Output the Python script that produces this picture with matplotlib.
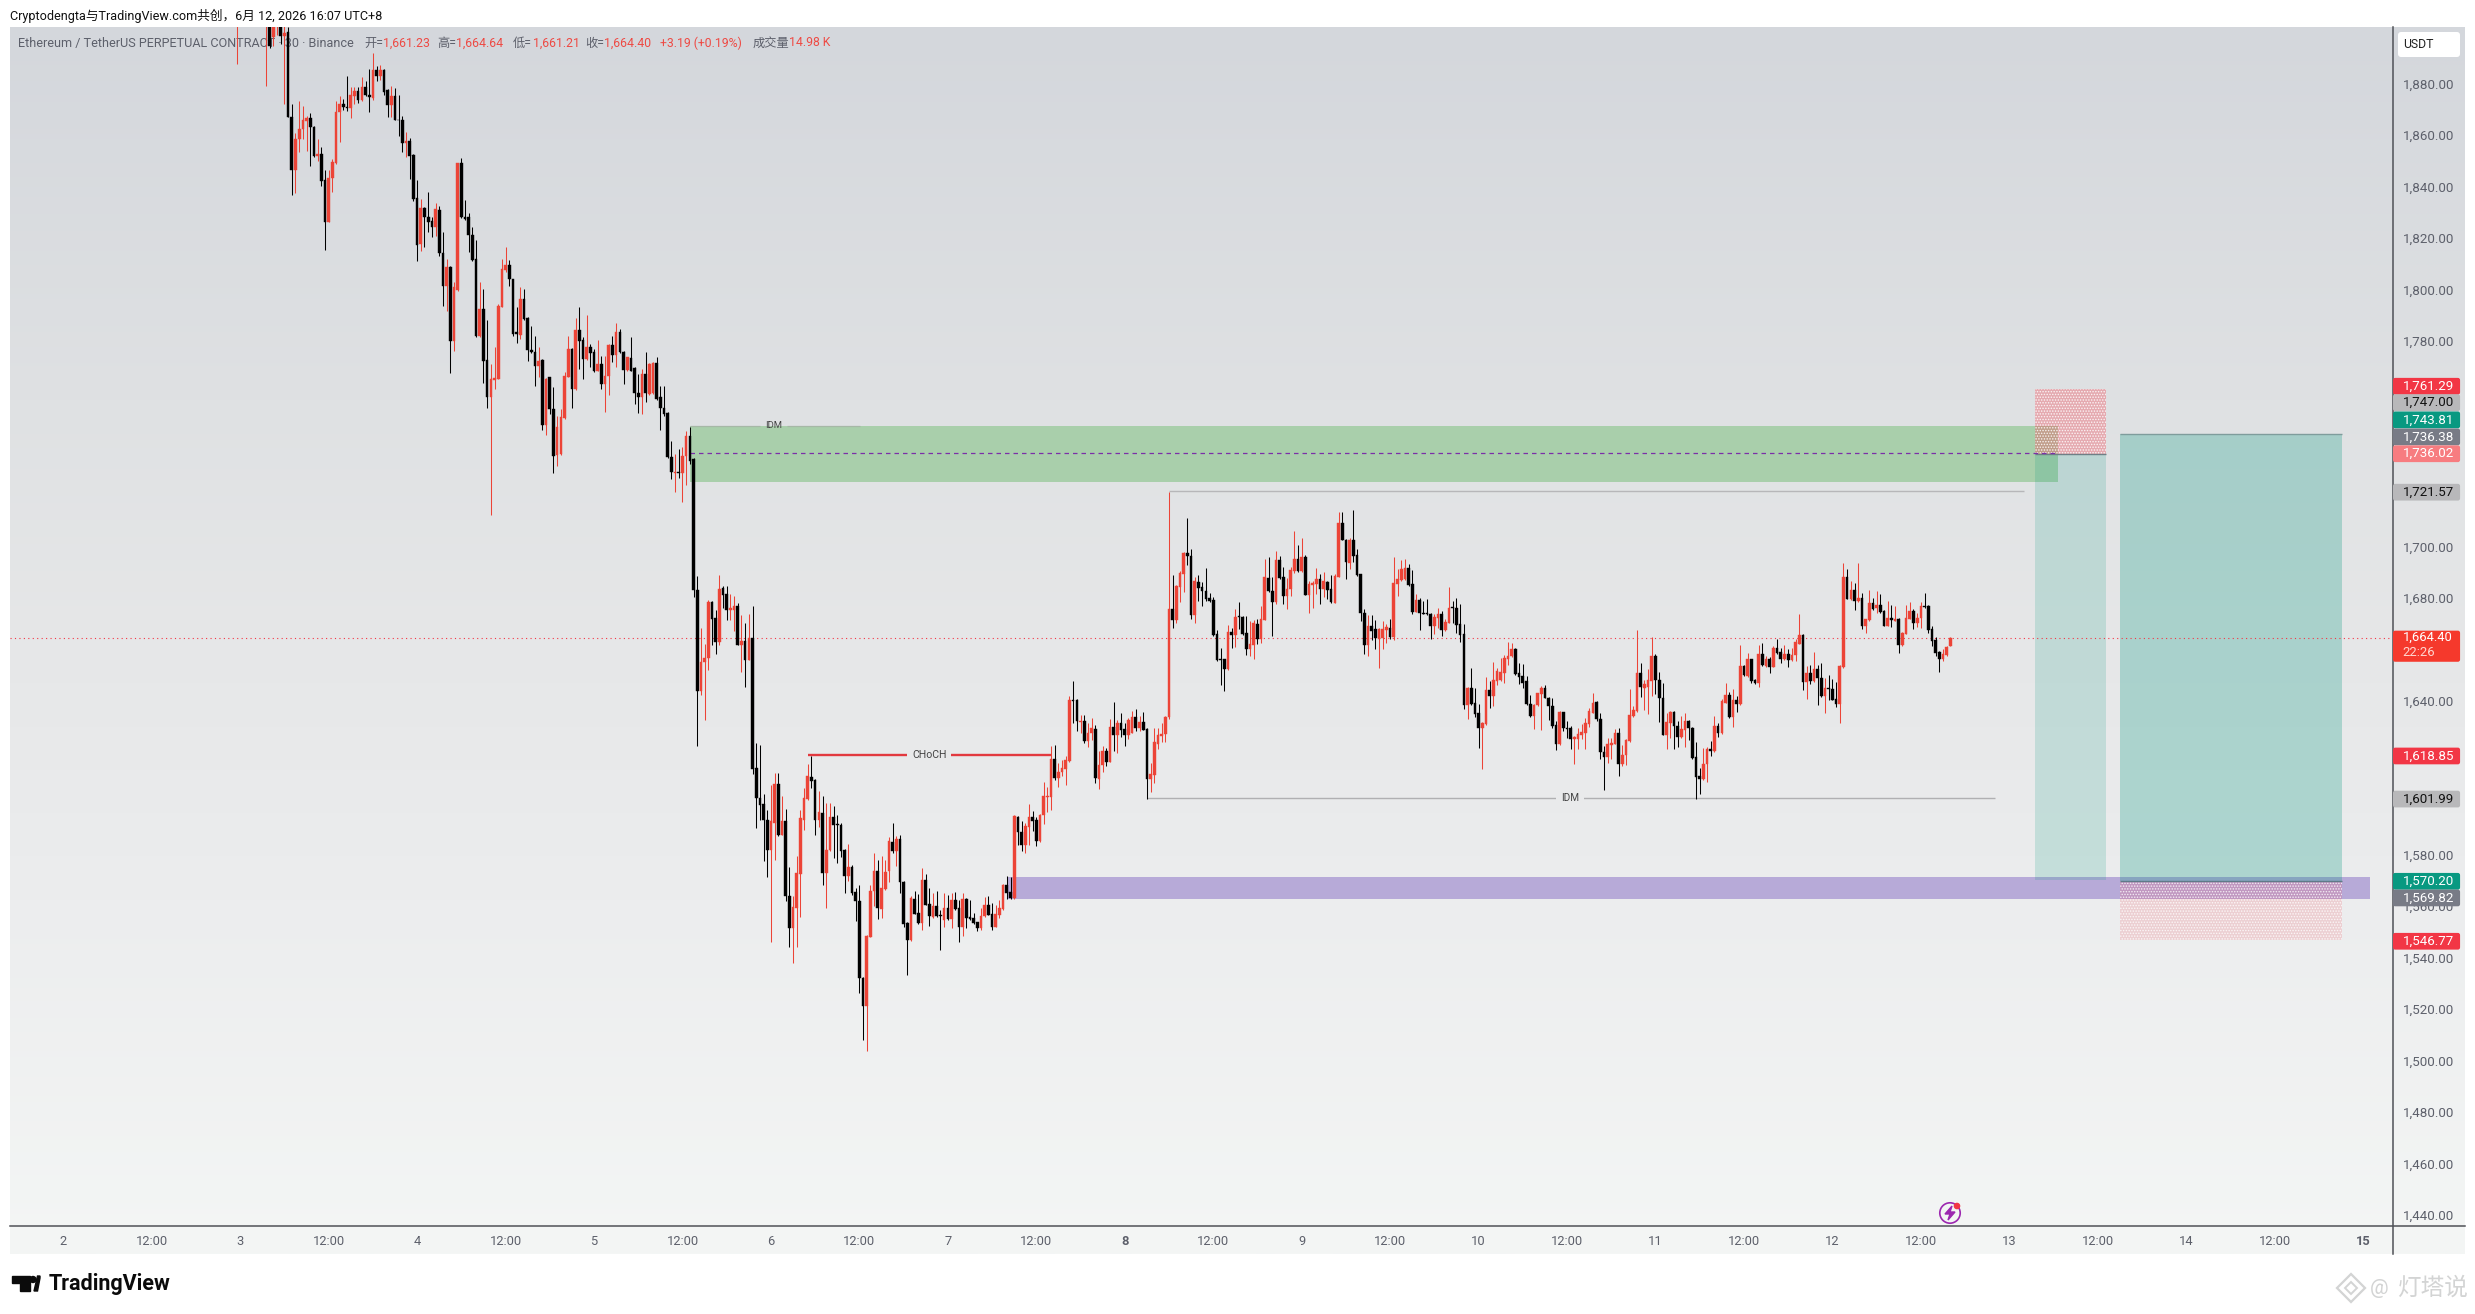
import numpy as np
import matplotlib
matplotlib.use("Agg")
import matplotlib.pyplot as plt
from matplotlib.patches import Rectangle, Circle, Polygon, FancyBboxPatch

plt.rcParams['font.family'] = ['Roboto', 'Noto Sans CJK SC', 'DejaVu Sans']
plt.rcParams['hatch.linewidth'] = 0.7

# 30 minute candles, index 0 is 00:00 on the 2nd; the first visible one is 47
first_candle = 47

opens = [
    1905, 1915, 1918, 1916, 1920, 1917, 1914, 1912, 1905, 1915,
    1898, 1908, 1908, 1898.5, 1900, 1867.1, 1846.5, 1858.5, 1862.4, 1865.6,
    1866.5, 1863.3, 1852, 1852.6, 1842.6, 1826.3, 1843.3, 1849.1, 1868.8, 1872.1,
    1871, 1870.4, 1875.3, 1877, 1873.8, 1878.8, 1875.7, 1874.3, 1885.4, 1883.1,
    1885.4, 1877.5, 1871.8, 1875.3, 1866, 1866, 1856.8, 1857.5, 1852.4, 1835.5,
    1817.6, 1831.5, 1828.2, 1826.7, 1824.1, 1831, 1814.1, 1801.4, 1808.8, 1779.7,
    1799.7, 1849.1, 1828, 1828, 1821.2, 1811.8, 1781.9, 1792.3, 1772.5, 1758.2,
    1764.7, 1765.1, 1793.2, 1807.5, 1809.4, 1804, 1783.2, 1782.3, 1796.2, 1788.7,
    1776.4, 1775.7, 1770, 1772.5, 1747.3, 1765.7, 1753.4, 1735.5, 1735.9, 1749.9,
    1766, 1776.7, 1761.2, 1784.3, 1780.4, 1772.9, 1777.4, 1775.5, 1768.3, 1770.9,
    1763.1, 1766.1, 1778.4, 1774.5, 1783.5, 1775.7, 1768.7, 1773.3, 1769.2, 1759.5,
    1758.2, 1767, 1759.2, 1759.5, 1771.2, 1758, 1754, 1751.7, 1734.9, 1728.7,
    1729, 1728.4, 1735.2, 1743, 1733.9, 1683.1, 1643.6, 1655, 1656.5, 1678.2,
    1672.1, 1662.6, 1683.8, 1681.4, 1675.3, 1675.3, 1676.9, 1661.7, 1663.3, 1655.9,
    1664.3, 1613.7, 1602.1, 1599.7, 1593.6, 1581.7, 1592.3, 1607.6, 1587.8, 1593,
    1564, 1551.5, 1559.3, 1572.6, 1593.6, 1601.8, 1610.2, 1609, 1593.4, 1596.2,
    1573.1, 1581.7, 1594.7, 1592, 1591.7, 1582, 1571.6, 1575.1, 1565.4, 1562.2,
    1532, 1521, 1548.2, 1565.8, 1573.8, 1559, 1566.8, 1573.8, 1585, 1581.3,
    1586.1, 1569.6, 1553.4, 1546.7, 1562.8, 1557.3, 1553.4, 1570.3, 1560.8, 1555.8,
    1560.2, 1556.7, 1554.5, 1559.2, 1554.9, 1562.5, 1559.3, 1552.1, 1562.8, 1555.7,
    1555.4, 1553.7, 1551.5, 1556.3, 1560.6, 1557, 1552.1, 1556.7, 1558.9, 1568.4,
    1565.5, 1563.2, 1594.9, 1589, 1583.9, 1591, 1594.9, 1593.6, 1585.2, 1595.3,
    1602.4, 1602.4, 1617.4, 1609.8, 1612.2, 1613.5, 1616.6, 1640.3, 1640.3, 1631.6,
    1632.2, 1624.1, 1627.2, 1628.9, 1609.5, 1614.8, 1620.2, 1616.3, 1629.7, 1626.7,
    1631.2, 1628.9, 1626.7, 1627.4, 1633.6, 1629.3, 1631.6, 1629, 1609.5, 1611.2,
    1623.2, 1626.4, 1627.1, 1633.7, 1675.5, 1671.4, 1684.2, 1689.1, 1697.6, 1696.3,
    1673.2, 1686.3, 1684.2, 1682.7, 1679.8, 1679.1, 1665.8, 1656, 1656, 1652.2,
    1666.7, 1665.4, 1673, 1672.7, 1666.4, 1660, 1661.6, 1669.9, 1663.8, 1671.4,
    1687.8, 1682.7, 1678.4, 1694.6, 1688.1, 1680.5, 1683.3, 1690.4, 1695, 1690.4,
    1696, 1681.1, 1685, 1685.2, 1687.2, 1683.3, 1686.3, 1683.3, 1678.1, 1688.2,
    1709, 1702.5, 1693.7, 1702.4, 1696.5, 1689.1, 1674.2, 1661.6, 1669, 1667.7,
    1664.1, 1664.2, 1667.4, 1668.4, 1664.9, 1685.2, 1686.9, 1687.2, 1691.7, 1685.2,
    1674.6, 1679.1, 1674.2, 1674, 1673.8, 1669, 1672.3, 1673.6, 1667.5, 1670.3,
    1676.3, 1676.2, 1669.7, 1665.8, 1638.2, 1644.8, 1638.9, 1635.3, 1629.5, 1630.8,
    1644.1, 1641.8, 1647.6, 1648, 1650.9, 1656.1, 1657.4, 1660, 1650.6, 1649.6,
    1647.6, 1638.8, 1634, 1638.3, 1642.5, 1644.8, 1641.1, 1637.9, 1630.4, 1623,
    1635.5, 1629.4, 1629.4, 1624.9, 1624.9, 1626.8, 1627.2, 1630.7, 1635.3, 1639.4,
    1633, 1620.1, 1618, 1622.7, 1623.3, 1627.2, 1615.5, 1618.7, 1624.2, 1634,
    1635.9, 1650.8, 1645, 1645.4, 1647.6, 1657.3, 1648.2, 1641.1, 1626.8, 1631.1,
    1635.5, 1630.3, 1625.9, 1628.7, 1632, 1629.4, 1618.1, 1610.5, 1609.3, 1615.2,
    1621, 1620.2, 1630.3, 1627.2, 1639.1, 1642, 1633.6, 1640.1, 1638.5, 1653.4,
    1649.5, 1656, 1648.2, 1646.7, 1658, 1653.4, 1656.3, 1653.2, 1660.5, 1659,
    1656, 1658.3, 1655.7, 1657.6, 1662.2, 1665.7, 1647.2, 1650.8, 1647.6, 1652.4,
    1648.9, 1641.7, 1645, 1644.7, 1640.7, 1638.5, 1653, 1688, 1679.7, 1683.2,
    1678.7, 1680, 1669.2, 1671.2, 1677.8, 1675.9, 1677.1, 1675, 1669.2, 1672.2,
    1671, 1671.8, 1661.8, 1666, 1671.8, 1674.8, 1670.3, 1672, 1676.8, 1676.8,
    1667.7, 1663.4, 1659, 1656, 1657.6, 1661.23,
]
closes = [
    1915, 1918, 1916, 1920, 1917, 1914, 1912, 1905, 1915, 1894.8,
    1908, 1912, 1898.7, 1899.7, 1866.9, 1846.5, 1858.5, 1862.4, 1866, 1866.6,
    1863, 1852, 1852.6, 1842.2, 1826.3, 1843.3, 1849.6, 1869.1, 1872.1, 1870.8,
    1870.4, 1875.7, 1877, 1873.8, 1878.8, 1875.4, 1874.7, 1885.4, 1883.1, 1885.4,
    1876.6, 1871.8, 1875.3, 1866, 1865.8, 1856.8, 1857.5, 1852, 1835.1, 1817.3,
    1831.5, 1828, 1826.3, 1824.1, 1831.2, 1814, 1801.4, 1808.8, 1779.7, 1800.7,
    1849.1, 1828, 1827.3, 1821.1, 1811.5, 1781.9, 1792.3, 1772.2, 1758.2, 1765.1,
    1765.5, 1793.6, 1807.9, 1809.6, 1804, 1782.8, 1782.8, 1796.2, 1788.4, 1776.4,
    1775.5, 1770, 1772.2, 1747.3, 1765.1, 1753.4, 1735.2, 1746.5, 1750.2, 1766.4,
    1776.7, 1761.4, 1784.3, 1780, 1772.9, 1777.4, 1775.2, 1768.3, 1770.9, 1763.1,
    1766.4, 1778.4, 1774.5, 1783.5, 1775.5, 1768.7, 1773.5, 1768.4, 1759.5, 1758.2,
    1767, 1759.5, 1770.9, 1771.5, 1757.3, 1754, 1751.4, 1734.6, 1728.8, 1729,
    1728.4, 1735.2, 1743, 1733.3, 1682.9, 1643.6, 1655, 1656.5, 1678.2, 1671.8,
    1662.6, 1683.4, 1681.2, 1675.3, 1676, 1676.9, 1661.7, 1663.3, 1655.9, 1664.3,
    1613.4, 1602.1, 1599.5, 1593.6, 1581.7, 1593, 1607.6, 1587.8, 1593, 1563.8,
    1551.5, 1559.7, 1572.9, 1594.3, 1602.1, 1610.5, 1608.6, 1593.4, 1596.5, 1573.1,
    1582, 1594.7, 1591.7, 1591.6, 1581.6, 1571.6, 1575.1, 1565.1, 1561.9, 1532,
    1521, 1548.5, 1566, 1573.8, 1559.3, 1567, 1573.5, 1585.2, 1581.3, 1586.1,
    1569.6, 1553.2, 1546.7, 1563.2, 1557, 1553.4, 1570.3, 1560.6, 1556.3, 1560.2,
    1556.3, 1556.3, 1559.2, 1555.1, 1562.5, 1558.9, 1552.1, 1562.8, 1555.4, 1555,
    1553.4, 1551.5, 1556.3, 1560.6, 1556.7, 1552.1, 1557, 1559.3, 1568.4, 1565.1,
    1563.2, 1595.2, 1588.7, 1583.9, 1591.3, 1594.9, 1593.2, 1585.2, 1595.3, 1602.7,
    1603, 1617.4, 1609.8, 1612.4, 1613.7, 1617, 1640.3, 1640, 1631.9, 1631.9,
    1624.1, 1627.4, 1629.3, 1609.8, 1615, 1620.2, 1616.3, 1629.7, 1626.7, 1631.2,
    1628.7, 1626.7, 1632.5, 1633.6, 1629.3, 1631.6, 1628.7, 1609.5, 1611.5, 1623.7,
    1626.7, 1627.1, 1633.6, 1675.5, 1671.4, 1684.6, 1689.5, 1697.6, 1696.3, 1673.2,
    1686.5, 1683.9, 1682.7, 1679.4, 1678.8, 1665.5, 1655.7, 1655.7, 1652.2, 1666.8,
    1665.4, 1672.7, 1672.5, 1665.8, 1660, 1661.9, 1670.1, 1664.1, 1671.6, 1688.1,
    1682.7, 1678.4, 1694.6, 1687.8, 1680.5, 1683.6, 1690.7, 1695, 1690.4, 1696,
    1681.1, 1685.2, 1685.9, 1687.2, 1683.3, 1686.5, 1683, 1678.4, 1688.5, 1709,
    1702.5, 1693.9, 1702.4, 1696.3, 1688.9, 1674, 1661.6, 1669, 1667.1, 1664.2,
    1667.7, 1667.7, 1668.6, 1664.8, 1685.6, 1687.2, 1691.1, 1691.7, 1684.9, 1674.6,
    1679.1, 1674, 1673.8, 1673.6, 1669, 1672.5, 1673.8, 1667.5, 1670.6, 1676.2,
    1676, 1669.4, 1665.5, 1638.2, 1645, 1638.6, 1634.9, 1629.5, 1631.2, 1644.1,
    1641.8, 1647.9, 1651.5, 1651.1, 1656.4, 1657.4, 1660, 1650.2, 1649.2, 1647,
    1638.5, 1634, 1638.3, 1642.8, 1645, 1641.1, 1637.9, 1630.1, 1623, 1635.6,
    1629.4, 1629, 1624.9, 1625.8, 1627.1, 1627.7, 1631.1, 1635.9, 1639.1, 1632.7,
    1620, 1618, 1623.2, 1623.6, 1627.2, 1615.5, 1619, 1624.5, 1634.2, 1636.2,
    1650.8, 1645.2, 1646.3, 1648, 1657.3, 1648, 1641.1, 1626.8, 1631.6, 1635.5,
    1630, 1625.9, 1629, 1632, 1629.2, 1617.7, 1610.2, 1609.3, 1615.5, 1621.2,
    1620.2, 1630.3, 1627.2, 1639.8, 1642, 1633.6, 1640.2, 1638.5, 1653.4, 1649.8,
    1656, 1647.6, 1646.9, 1658, 1653.7, 1656.3, 1653.2, 1660.5, 1658.6, 1656,
    1658.3, 1655.7, 1657.7, 1662.8, 1665.7, 1647.2, 1650.8, 1647.6, 1652.4, 1648.9,
    1641.7, 1645, 1644.5, 1640.4, 1638.5, 1653.4, 1688, 1679.7, 1683.2, 1678.7,
    1680, 1669.2, 1671.6, 1677.8, 1675.7, 1677.1, 1674.4, 1669.2, 1672.2, 1671.2,
    1671.6, 1661.8, 1666.4, 1672.2, 1674.8, 1670.3, 1672.2, 1676.8, 1676.3, 1667.4,
    1663.1, 1658.6, 1656, 1658, 1661, 1664.4,
]
highs = [
    1925, 1922, 1924, 1926, 1925, 1922, 1920, 1915, 1920, 1918,
    1912, 1915, 1912, 1906, 1902, 1872, 1860.7, 1873.4, 1871.4, 1867.3,
    1868.4, 1863.5, 1858.5, 1855.5, 1846.5, 1846.5, 1850.7, 1873.4, 1875.3, 1874,
    1883.1, 1878.6, 1878.8, 1878.6, 1882.4, 1881, 1885.7, 1891.9, 1887, 1887.4,
    1885.6, 1878, 1879.2, 1878.2, 1875.7, 1867.5, 1861.3, 1858.8, 1852.6, 1842.5,
    1835, 1832, 1837.7, 1828, 1833.4, 1832.5, 1822.1, 1811.8, 1809, 1802.7,
    1849.3, 1851, 1834.7, 1829.5, 1824.3, 1819.3, 1803, 1800.1, 1788, 1770.9,
    1777.4, 1794.3, 1811.8, 1816.3, 1811.5, 1804.2, 1793, 1800.7, 1800.1, 1789.2,
    1785.8, 1781.9, 1777.7, 1772.9, 1765.4, 1766, 1761.8, 1750.8, 1753.4, 1767.7,
    1781.9, 1777, 1788.8, 1793.2, 1781.3, 1790, 1778.7, 1776.7, 1780.2, 1774.1,
    1774.1, 1778.7, 1781.9, 1786.9, 1784.5, 1776.1, 1773.7, 1781.6, 1769.6, 1767,
    1769, 1775.5, 1771.5, 1771.9, 1773.8, 1762.5, 1762.5, 1752.1, 1741, 1735.9,
    1738, 1738.7, 1744.7, 1746.5, 1734.2, 1688.6, 1668.2, 1662.1, 1679.2, 1678.6,
    1675.3, 1689, 1684.7, 1684.4, 1681.4, 1680.5, 1677.9, 1673.4, 1670.2, 1673.7,
    1676.9, 1623.5, 1622.8, 1603.6, 1597.5, 1607.3, 1611.8, 1611.8, 1602.7, 1597.8,
    1575.2, 1564, 1579.4, 1597.5, 1606, 1615.4, 1618.3, 1609.4, 1604.7, 1603,
    1600.1, 1600, 1598.8, 1595.6, 1592.3, 1582.4, 1584.2, 1576.2, 1567, 1568.3,
    1532.5, 1548.9, 1568.3, 1580.9, 1578.1, 1579.4, 1578.1, 1587.1, 1592.3, 1587.4,
    1587.8, 1570, 1554, 1563.8, 1565.8, 1564.8, 1574.8, 1572.6, 1567, 1565,
    1565.8, 1558.7, 1565, 1564.5, 1565.1, 1565.4, 1562.4, 1565.1, 1563.2, 1562.5,
    1557.3, 1553.9, 1559.3, 1563.5, 1563.8, 1561.2, 1560.6, 1562.5, 1568.8, 1571.8,
    1571.3, 1595.4, 1595.2, 1593, 1592.3, 1599.7, 1596.9, 1594.7, 1596, 1608.2,
    1606.5, 1622.2, 1622.8, 1615.7, 1617, 1618.3, 1641.9, 1647.5, 1640.5, 1634.5,
    1634.5, 1631.2, 1633.2, 1630.6, 1620.2, 1622.4, 1621.5, 1632.8, 1639.4, 1632.5,
    1635.1, 1631.2, 1633.2, 1635.8, 1636.7, 1633.9, 1635.4, 1629.3, 1615.7, 1629.3,
    1629.3, 1631.2, 1634, 1721.3, 1688.7, 1684.9, 1690.4, 1697.9, 1710.9, 1699.1,
    1688, 1688.7, 1686.1, 1691.7, 1682, 1680.3, 1667.3, 1660.6, 1656.3, 1669.3,
    1668.4, 1675.8, 1678.5, 1673, 1673, 1671, 1671.4, 1671.9, 1676.8, 1695.2,
    1696, 1688, 1698, 1696.3, 1692.1, 1687.8, 1692.1, 1706, 1700.4, 1703.4,
    1696.5, 1686.5, 1686.6, 1691.7, 1689.4, 1690, 1686.6, 1688.7, 1689.1, 1713.5,
    1713.5, 1703, 1703.4, 1714, 1699.1, 1689.3, 1675.8, 1673.2, 1673.2, 1671.2,
    1668.4, 1671, 1669.7, 1671.6, 1696, 1691.1, 1694.6, 1695, 1693, 1690.7,
    1681.6, 1680, 1678.8, 1679.4, 1674.2, 1673.5, 1676.2, 1674.9, 1671.6, 1684.2,
    1678.8, 1680, 1677.5, 1669.9, 1645.3, 1652.8, 1645, 1638.5, 1631.5, 1649,
    1647.6, 1655, 1652.8, 1656.7, 1657.6, 1662.9, 1662.5, 1660.6, 1654.5, 1654.1,
    1649.6, 1642, 1638.5, 1643, 1645.6, 1646.1, 1641.3, 1641.1, 1632, 1636,
    1635.7, 1632, 1630, 1626.2, 1629.4, 1631, 1633.3, 1637.2, 1642.8, 1639.8,
    1635, 1622.5, 1625.5, 1625.3, 1629, 1629.4, 1622.9, 1624.9, 1644.7, 1637.9,
    1667.3, 1654.7, 1648.2, 1652.1, 1664.8, 1658, 1651.2, 1646.9, 1635.3, 1635.9,
    1635.9, 1632, 1634, 1635.3, 1632.3, 1629.7, 1624, 1613.9, 1621.6, 1622,
    1624.2, 1634, 1631.1, 1640.7, 1646.7, 1643.4, 1644.6, 1641.7, 1661.8, 1654,
    1658.6, 1656.2, 1648.3, 1661.8, 1662.5, 1657.3, 1657.1, 1661.2, 1664, 1660.5,
    1661.5, 1659.9, 1660.5, 1663.8, 1673.5, 1665.9, 1653.4, 1653.7, 1658.9, 1654,
    1654.7, 1648.9, 1649.8, 1648.5, 1647.3, 1653.7, 1693.4, 1691.3, 1686.5, 1685.8,
    1693.4, 1682, 1671.9, 1682.9, 1680, 1682.6, 1681.3, 1675.4, 1678.7, 1677.1,
    1676.8, 1672.1, 1666.7, 1677, 1678.3, 1675.7, 1673.9, 1678.4, 1681.7, 1677.1,
    1669.2, 1664.7, 1659.3, 1659.9, 1661.4, 1664.64,
]
lows = [
    1887.6, 1906, 1908, 1910, 1908, 1906, 1905, 1903, 1879, 1894,
    1894.8, 1899, 1895.4, 1872, 1866.9, 1836.5, 1837.6, 1853.3, 1858.5, 1853.9,
    1847.8, 1851.3, 1850, 1840, 1815.4, 1826.2, 1837.7, 1848.7, 1857.2, 1869.7,
    1869.2, 1866.6, 1872.1, 1872.3, 1873.4, 1875.2, 1868.8, 1873.8, 1880.9, 1881.4,
    1875.7, 1866.9, 1866.9, 1865.8, 1859.8, 1853.3, 1851.3, 1842.9, 1834.5, 1811,
    1815, 1816.3, 1822.1, 1820.2, 1820.8, 1813.1, 1793.6, 1791.7, 1767.3, 1776.1,
    1799.4, 1827.8, 1827.1, 1814.7, 1811.1, 1781.5, 1781.3, 1763.4, 1753.7, 1712.2,
    1761.2, 1765, 1793, 1806.6, 1801.1, 1781.9, 1779.3, 1780.6, 1788.2, 1772,
    1775.3, 1762.5, 1765.7, 1745.2, 1743.3, 1751.5, 1728.4, 1731.1, 1735.7, 1749.5,
    1765.7, 1753.7, 1760.8, 1769, 1765.1, 1772.5, 1769.6, 1768, 1768.1, 1761.2,
    1752.1, 1759, 1771.6, 1769.6, 1775.3, 1763.1, 1768.3, 1768.1, 1755.3, 1751.7,
    1751.5, 1756, 1759, 1759.2, 1757.1, 1745.2, 1750.8, 1734.4, 1726.2, 1721,
    1726.6, 1717.1, 1724, 1732, 1680.3, 1622.2, 1642.3, 1632.3, 1652, 1661.7,
    1658.2, 1661.7, 1676, 1671.5, 1671.5, 1666.9, 1661.5, 1651, 1645.1, 1655.7,
    1611.4, 1590.6, 1593.6, 1577.7, 1571.2, 1545.9, 1577.8, 1587.2, 1587.6, 1562.2,
    1544, 1538, 1544.3, 1556, 1589.7, 1601.4, 1606, 1587.8, 1591, 1568.3,
    1559.3, 1581.3, 1578.7, 1577, 1579, 1565.1, 1570, 1564.5, 1554.1, 1526.2,
    1508, 1503.5, 1548, 1560, 1555, 1555.4, 1566.4, 1569.6, 1580.7, 1575.8,
    1565.1, 1551.9, 1533.1, 1546.4, 1556.8, 1553.1, 1550.6, 1560.4, 1552.4, 1555.5,
    1556, 1542.8, 1552.1, 1554.7, 1551.7, 1558.7, 1545.9, 1548.5, 1551.7, 1554.6,
    1553.1, 1550.2, 1550.6, 1556, 1556.5, 1550.6, 1551.9, 1555.4, 1558.6, 1562.8,
    1562.9, 1562.9, 1583.9, 1581.3, 1580.9, 1583.9, 1589.1, 1583.5, 1584.9, 1592.1,
    1596.6, 1597.3, 1609.2, 1606.2, 1610.5, 1607.3, 1616.3, 1631.2, 1628, 1627.4,
    1623.5, 1621.8, 1624.8, 1607.9, 1605.6, 1612.1, 1614.4, 1616, 1620.2, 1619.8,
    1626, 1622.2, 1625, 1627.2, 1628, 1628, 1628.4, 1601.7, 1604.3, 1607.9,
    1621.1, 1623.7, 1623.7, 1633, 1668.4, 1670.1, 1678.4, 1682.3, 1692.6, 1671.9,
    1670.1, 1678.8, 1676.8, 1678.8, 1678.4, 1665.2, 1655.4, 1646.1, 1643.7, 1652,
    1660.6, 1660.9, 1667.8, 1665.5, 1657.6, 1657.4, 1656.1, 1661.9, 1662.3, 1671.2,
    1682.3, 1665.1, 1677.5, 1687.2, 1677.5, 1675.8, 1680.7, 1689.8, 1690, 1690.1,
    1681, 1674.2, 1676.2, 1681.4, 1677.5, 1680.4, 1679.7, 1678.1, 1677.8, 1688,
    1702.3, 1687.4, 1691.3, 1693.9, 1688.5, 1671, 1658, 1657.4, 1663.6, 1660,
    1652.8, 1660, 1662.5, 1664.1, 1663.6, 1680.7, 1686.5, 1686.9, 1684.4, 1673.6,
    1674.5, 1667.5, 1673.5, 1673.3, 1664.1, 1665.8, 1668.4, 1665.1, 1667.1, 1670,
    1670.3, 1666.4, 1662.9, 1636.6, 1632.7, 1638.3, 1633.8, 1621.7, 1613.3, 1630.5,
    1637, 1637.9, 1646, 1647.6, 1647, 1654, 1656.9, 1649.9, 1646.3, 1645,
    1638.2, 1633.7, 1628.8, 1638, 1628.6, 1640.9, 1632.5, 1629.5, 1620.8, 1622.7,
    1628.1, 1625.3, 1621, 1615.2, 1621.2, 1624.9, 1621.2, 1629.7, 1635, 1632,
    1617.4, 1605.2, 1615.8, 1617.4, 1623, 1610.6, 1614.5, 1614.8, 1623.9, 1633.8,
    1635.6, 1641.4, 1636.2, 1634.6, 1641.7, 1642.4, 1631.6, 1626.5, 1621.2, 1625.5,
    1621, 1622, 1625.6, 1622, 1624.5, 1617.3, 1601.8, 1603.5, 1609.1, 1608.3,
    1618.4, 1620, 1625.8, 1627, 1638.9, 1633.3, 1629.7, 1635.5, 1638.3, 1649.5,
    1649.2, 1646.7, 1646.6, 1645.2, 1653.4, 1653.1, 1650.6, 1653, 1658.3, 1654.7,
    1655.8, 1653.2, 1655.5, 1655.4, 1662, 1644.3, 1640.8, 1646.5, 1647.4, 1638.1,
    1641.5, 1635, 1640.2, 1640.2, 1637.5, 1631.1, 1652.8, 1679.5, 1679.3, 1675.2,
    1678.4, 1667.7, 1666.1, 1671, 1675.4, 1674.2, 1674.1, 1669, 1669, 1668.7,
    1670.9, 1658.6, 1661.2, 1665.8, 1671.6, 1667.7, 1668.7, 1668.3, 1676.1, 1666.4,
    1661.2, 1657.3, 1651.1, 1655.4, 1657.3, 1661.21,
]

price_ticks = list(range(1440, 1881, 20))
# these axis labels sit completely behind a price tag, so they are left blank
covered_ticks = [1600, 1660, 1720, 1740, 1760]
time_labels = ['2', '12:00', '3', '12:00', '4', '12:00', '5', '12:00', '6', '12:00', '7', '12:00', '8', '12:00',
               '9', '12:00', '10', '12:00', '11', '12:00', '12', '12:00', '13', '12:00', '14', '12:00', '15']
bold_labels = ['8', '15']

# price levels drawn on the chart
idm_high = 1747.00
idm_mid = 1736.38
zone_low = 1724.9
sweep_high = 1721.57
choch_level = 1618.85
idm_low = 1601.99
purple_top = 1571.5
purple_bottom = 1562.8
last_price = 1664.40
short_stop = 1761.29
short_entry = 1736.02
short_target = 1570.20
long_entry = 1569.82
long_stop = 1546.77
long_target = 1743.81

tag_values = [1761.29, 1747.00, 1743.81, 1736.38, 1736.02, 1721.57, 1618.85, 1601.99, 1570.20, 1569.82, 1546.77]
tag_colors = ['#f23645', '#b8b8ba', '#089981', '#787b86', '#f77c80', '#b8b8ba', '#f23645', '#b8b8ba', '#089981', '#787b86', '#f23645']
tag_text = ['white', '#111111', 'white', 'white', 'white', '#111111', 'white', '#111111', 'white', 'white', 'white']
# stacked tags get pushed off their exact level so they don't overlap
tag_nudge = [1.0, 8.9, 5.4, 6.2, 0.0, -0.5, -0.4, -0.3, -0.5, -6.6, -0.4]

UP = '#ec4437'
DOWN = '#000000'
TEXT_GREY = '#5d606b'
LEGEND_RED = '#ee4a44'

fig = plt.figure(figsize=(24.75, 13.14), dpi=100, facecolor='white')


def box(x0, y0, x1, y1):
    # pixel rectangle (top-left origin) to figure fractions
    return [x0 / 2475, 1 - y1 / 1314, (x1 - x0) / 2475, (y1 - y0) / 1314]


# backdrop layer in pixel coordinates: gradient panel, header and logos
ov = fig.add_axes([0, 0, 1, 1], zorder=0)
shade_y = np.array([27, 400, 640, 900, 1254])
shade_rgb = np.array([[212, 215, 220], [223, 225, 227], [230, 231, 232], [236, 237, 238], [244, 246, 245]]) / 255
rows = np.arange(27, 1255)
gradient = np.stack([np.interp(rows, shade_y, shade_rgb[:, k]) for k in range(3)], axis=1)[:, None, :]
ov.imshow(gradient, extent=[10, 2465, 1254, 27], aspect='auto', interpolation='bilinear')
ov.set_xlim(0, 2475)
ov.set_ylim(1314, 0)
ov.axis('off')

ov.plot([10, 2465], [1226, 1226], color='#4f5157', lw=1.1)
ov.plot([2393, 2393], [27, 1254], color='#4f5157', lw=1.1)

ov.text(10, 16, 'Cryptodengta与TradingView.com共创，6月 12, 2026 16:07 UTC+8', fontsize=9.1, color='#111111', va='center')

legend_y = 43
ov.text(18, legend_y, 'Ethereum / TetherUS PERPETUAL CONTRACT · 30 · Binance', fontsize=9.13, color=TEXT_GREY, va='center')
legend_parts = [(364, '开=', TEXT_GREY), (383.5, '1,661.23', LEGEND_RED), (437.4, '高=', TEXT_GREY), (456, '1,664.64', LEGEND_RED),
                (513, '低=', TEXT_GREY), (532.7, '1,661.21', LEGEND_RED), (585, '收=', TEXT_GREY), (604, '1,664.40', LEGEND_RED),
                (660, '+3.19 (+0.19%)', LEGEND_RED), (752.6, '成交量', TEXT_GREY), (788.7, '14.98 K', LEGEND_RED)]
for px, s, col in legend_parts:
    ov.text(px, legend_y, s, fontsize=8.8, color=col, va='center')

# TradingView mark and wordmark
ov.add_patch(Polygon([[12, 1276], [30, 1276], [30, 1291], [20, 1291], [20, 1283], [12, 1283]], color='#0b0b0b'))
ov.add_patch(Circle((33, 1279.5), 3, color='#0b0b0b'))
ov.add_patch(Polygon([[34, 1291], [37.5, 1276], [40, 1276], [40, 1278], [37.5, 1291]], color='#0b0b0b'))
ov.text(49, 1284, 'TradingView', fontsize=15.5, fontweight='bold', color='#0b0b0b', va='center')

# watermark, bottom right corner
wm = '#d3d4d4'
ov.add_patch(Polygon([[2351, 1274], [2365, 1288], [2351, 1302], [2337, 1288]], fill=False, ec=wm, lw=1.6))
ov.add_patch(Polygon([[2351, 1282], [2357, 1288], [2351, 1294], [2345, 1288]], fill=False, ec=wm, lw=1.4))
ov.text(2370, 1288, '@', fontsize=15, color=wm, va='center')
ov.text(2397, 1288, '灯塔说', fontsize=17, color=wm, va='center')

# alert icon next to the time axis
ov.add_patch(Circle((1950, 1213), 10.2, fill=False, ec='#9c27b0', lw=1.2))
ov.add_patch(Polygon([[1952, 1206], [1945, 1214], [1950, 1214], [1948, 1220], [1955, 1212], [1950, 1212]], color='#9c27b0'))
ov.add_patch(Circle((1957, 1206), 2.6, color='#f23645'))

# main chart panel, with x in candle index
ax = fig.add_axes(box(10, 27, 2393, 1226), zorder=1)
ax.patch.set_alpha(0)
ax.set_xlim(-14.46, 632.1)
ax.set_ylim(1435.6, 1902.04)
for side in ax.spines.values():
    side.set_visible(False)

assert len(opens) == len(closes) == len(highs) == len(lows)
index = np.arange(first_candle, first_candle + len(opens))
o = np.array(opens, dtype=float)
c = np.array(closes, dtype=float)
hi = np.array(highs, dtype=float)
lo = np.array(lows, dtype=float)
colors = [UP if up else DOWN for up in c >= o]

# zones under the candles
ax.add_patch(Rectangle((170, zone_low), 371.1, idm_high - zone_low, fc='#a9cfab', ec='none', zorder=1))
ax.add_patch(Rectangle((256, purple_bottom), 369.9, purple_top - purple_bottom, fc='#b7aad8', ec='none', zorder=1))

# short setup box
ax.add_patch(Rectangle((535, short_target), 19.2, short_entry - short_target, fc=(8 / 255, 153 / 255, 129 / 255, 0.17), ec='none', zorder=2))
ax.add_patch(Rectangle((535, short_entry), 19.2, short_stop - short_entry, fc=(242 / 255, 54 / 255, 69 / 255, 0.32), ec=(1, 1, 1, 0.85), lw=0, hatch='......', zorder=2))
ax.hlines(short_entry, 535, 554.2, color='#6f7f86', lw=1, zorder=3)

# long setup box
ax.add_patch(Rectangle((558.1, long_entry), 60.1, long_target - long_entry, fc=(8 / 255, 153 / 255, 129 / 255, 0.27), ec='none', zorder=2))
ax.add_patch(Rectangle((558.1, long_stop), 60.1, long_entry - long_stop, fc=(242 / 255, 54 / 255, 69 / 255, 0.16), ec=(1, 1, 1, 0.8), lw=0, hatch='......', zorder=2))
ax.hlines(long_target, 558.1, 618.2, color='#7f9c9c', lw=1, zorder=3)
ax.hlines(long_entry, 558.1, 618.2, color='#5f7a88', lw=1, zorder=3)

# marked levels
ax.hlines(idm_mid, 170, 541, color='#7b2fa8', lw=0.9, linestyles=(0, (3.6, 3.2)), zorder=3)
ax.hlines([idm_high, idm_high], [170, 196.4], [189, 216.2], color='#a6b8a6', lw=0.9, zorder=3)
ax.hlines(sweep_high, 300, 532, color='#b7b7b9', lw=1, zorder=3)
ax.hlines(idm_low, 294, 524, color='#b0b0b2', lw=1, zorder=3)
ax.hlines(choch_level, 202, 268.2, color='#e2393f', lw=1.7, zorder=3)
ax.hlines(last_price, ax.get_xlim()[0], ax.get_xlim()[1], color='#f23645', lw=0.8, linestyles=(0, (1, 3)), zorder=3)

label_bg = dict(boxstyle='square,pad=0.45', ec='none')
ax.text(192.8, idm_high, 'IDM', fontsize=6.8, color='#444444', ha='center', va='center', zorder=4)
ax.text(235, choch_level, 'CHoCH', fontsize=7.6, color='#444444', ha='center', va='center', zorder=4, bbox=dict(fc='#e8e9ea', **label_bg))
ax.text(408.8, idm_low, 'IDM', fontsize=7.2, color='#444444', ha='center', va='center', zorder=4, bbox=dict(fc='#e9eaeb', **label_bg))

# candles
ax.vlines(index, lo, hi, colors=colors, lw=0.75, zorder=5)
ax.bar(index, np.abs(c - o), bottom=np.minimum(o, c), width=0.72, color=colors, edgecolor=colors, linewidth=0.3, zorder=6)

# price axis on the right, time axis below
ax.yaxis.tick_right()
ax.set_yticks(price_ticks)
ax.set_yticklabels(['' if p in covered_ticks else f'{p:,.2f}' for p in price_ticks], fontsize=9.6, color=TEXT_GREY)
ax.tick_params(axis='y', length=0, pad=7)
ax.set_xticks(np.arange(len(time_labels)) * 24)
ax.set_xticklabels(time_labels, fontsize=9.3, color=TEXT_GREY)
ax.tick_params(axis='x', length=0, pad=6.5)
for lbl in ax.get_xticklabels():
    if lbl.get_text() in bold_labels:
        lbl.set_fontweight('bold')

# price tags drawn over the axis labels, x offsets counted in candles
tag_left = ax.get_xlim()[1]
tag_width = 18.2
tag_height = 6.5
text_offset = 2.6


def price_tag(y_low, height, color):
    ax.add_patch(FancyBboxPatch((tag_left, y_low), tag_width, height, boxstyle='round,pad=0,rounding_size=0.6',
                                mutation_aspect=1.43, fc=color, ec='none', clip_on=False, zorder=8))


for value, col, txt, nudge in zip(tag_values, tag_colors, tag_text, tag_nudge):
    y = value + nudge
    price_tag(y - tag_height / 2, tag_height, col)
    ax.text(tag_left + text_offset, y, f'{value:,.2f}', fontsize=9.6, color=txt, va='center', clip_on=False, zorder=9)

price_tag(last_price - 9.3, 12.1, '#f5392c')
ax.text(tag_left + text_offset, last_price + 0.3, f'{last_price:,.2f}', fontsize=9.4, color='white', va='center', clip_on=False, zorder=9)
ax.text(tag_left + text_offset, last_price - 5.7, '22:26', fontsize=9.4, color='#ffd5cf', va='center', clip_on=False, zorder=9)

# USDT unit button at the top of the price axis
ov_top = fig.add_axes([0, 0, 1, 1], zorder=2)
ov_top.set_xlim(0, 2475)
ov_top.set_ylim(1314, 0)
ov_top.axis('off')
ov_top.add_patch(FancyBboxPatch((2398, 32), 62, 25, boxstyle='round,pad=0,rounding_size=3', fc='white', ec='none'))
ov_top.text(2403, 44.5, 'USDT', fontsize=8.8, color='#222222', va='center')

fig.savefig('out.png', dpi=100)
